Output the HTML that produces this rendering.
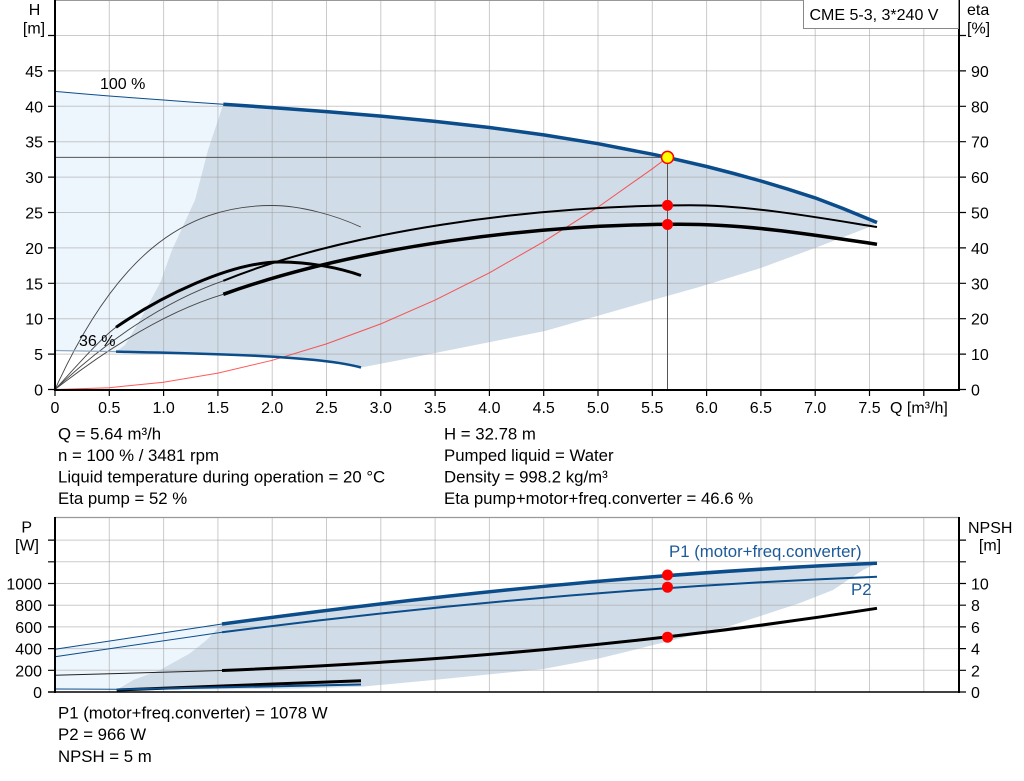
<!DOCTYPE html>
<html><head><meta charset="utf-8"><style>
html,body{margin:0;padding:0;background:#fff;width:1024px;height:781px;overflow:hidden}
svg{display:block}
text{font-family:"Liberation Sans",Arial,sans-serif;fill:#000}
.t{font-size:16px}
.i{font-size:16.8px}
</style></head><body>
<svg width="1024" height="781" viewBox="0 0 1024 781" xmlns="http://www.w3.org/2000/svg">
<rect x="0" y="0" width="1024" height="781" fill="#fff"/>

<!-- ============ TOP CHART ============ -->
<polygon fill="#edf5fd" points="55,91.4 82,93.7 109.3,96 136,98 163.6,100 190,102 223.3,104.2 208,150 195,200 172,250 160,283 140,320 125,345 116,351.6 55,350.5"/>
<polygon fill="#d0dce7" points="223.3,104.2 272.2,107.6 326.5,111.6 380.8,116.1 435.1,121.4 489.4,127.5 543.7,134.9 598,143.7 652.3,154.2 706.6,166.5 733.75,173.5 760.9,181 788.05,189.2 815.2,197.9 842.35,208.3 877,222.5 870,226.7 815,248 760,268.3 700,286.7 653,300 545,331 400,360 361,367.5 340,363 310,359.8 272,357.2 218,354.3 163,352.6 116,351.6 125,345 140,320 160,283 172,250 195,200 208,150"/>

<g stroke="#a0a0a0" stroke-opacity="0.55" stroke-width="1" fill="none">
<path d="M109.3,0V389.5M163.6,0V389.5M217.9,0V389.5M272.2,0V389.5M326.5,0V389.5M380.8,0V389.5M435.1,0V389.5M489.4,0V389.5M543.7,0V389.5M598,0V389.5M652.3,0V389.5M706.6,0V389.5M760.9,0V389.5M815.2,0V389.5M869.5,0V389.5M923.8,0V389.5"/>
<path d="M55,354.1H959M55,318.7H959M55,283.3H959M55,247.9H959M55,212.5H959M55,177.1H959M55,141.7H959M55,106.3H959M55,70.9H959M55,35.5H959"/>
</g>
<line x1="55" y1="0.5" x2="959" y2="0.5" stroke="#999" stroke-width="1"/>

<path d="M55,157.4H667.5V389.5" stroke="#555" stroke-width="1" fill="none"/>

<polyline fill="none" stroke="#ff3030" stroke-opacity="0.8" stroke-width="1" points="55,389.5 109.3,387.7 163.6,382.2 217.9,373.1 272.2,360.3 326.5,343.9 380.8,323.9 435.1,300.1 489.4,272.8 543.7,241.7 598,207.1 652.3,168.8 667.5,157.4"/>

<g fill="none" stroke="#444" stroke-width="0.9">
<path d="M55,389.5 C115,257.5 182,205.5 272,205.5 C300,205.5 335,215 360.8,227"/>
<path d="M55,389.5 C75,368 100,339 116,327.3"/>
<path d="M55,389.5 C105,342 163.3,301.8 223.3,280.8"/>
<path d="M55,389.5 C105,350.5 163.3,312.3 223.3,294.3"/>
</g>
<polyline fill="none" stroke="#0b4c8a" stroke-width="1" points="55,91.4 82,93.7 109.3,96 136,98 163.6,100 190,102 223.3,104.2"/>
<polyline fill="none" stroke="#8ea6bf" stroke-width="1.2" points="55,350.5 116,351.6"/>

<polyline fill="none" stroke="#0b4c8a" stroke-width="3.5" stroke-linejoin="round" points="223.3,104.2 272.2,107.6 326.5,111.6 380.8,116.1 435.1,121.4 489.4,127.5 543.7,134.9 598,143.7 652.3,154.2 667.5,157.4 706.6,166.5 733.75,173.5 760.9,181 788.05,189.2 815.2,197.9 842.35,208.3 877,222.5"/>
<path fill="none" stroke="#0b4c8a" stroke-width="2.5" d="M116,351.6 C200,353.3 320,355.5 361,367.5"/>

<path fill="none" stroke="#000" stroke-width="2" d="M223.3,280.8 C343.3,232 530,205.3 690,205.3 C750,205.3 815,217 877,227"/>
<path fill="none" stroke="#000" stroke-width="3.5" d="M223.3,294.3 C360,245 540,224.3 680,224.3 C750,224.3 815,235 877,244.3"/>
<path fill="none" stroke="#000" stroke-width="3" d="M116,327.3 C160,297 230,262 280,262 C310,262 340,268 361,275.5"/>

<circle cx="667.5" cy="205.4" r="5.5" fill="#f00"/>
<circle cx="667.5" cy="224.5" r="5.5" fill="#f00"/>
<circle cx="667.5" cy="157.4" r="6" fill="#ffff00" stroke="#f00" stroke-width="1.5"/>

<g stroke="#000" fill="none">
<line x1="55" y1="0" x2="55" y2="390.5" stroke-width="2"/>
<line x1="959" y1="0" x2="959" y2="390.5" stroke-width="2"/>
<line x1="54" y1="390" x2="960" y2="390" stroke-width="2"/>
<path stroke-width="1.2" d="M48,389.5H55M48,354.1H55M48,318.7H55M48,283.3H55M48,247.9H55M48,212.5H55M48,177.1H55M48,141.7H55M48,106.3H55M48,70.9H55M48,35.5H55"/>
<path stroke-width="1.2" d="M959,389.5H966M959,354.1H966M959,318.7H966M959,283.3H966M959,247.9H966M959,212.5H966M959,177.1H966M959,141.7H966M959,106.3H966M959,70.9H966M959,35.5H966"/>
<path stroke-width="1.2" d="M55,390V396M109.3,390V396M163.6,390V396M217.9,390V396M272.2,390V396M326.5,390V396M380.8,390V396M435.1,390V396M489.4,390V396M543.7,390V396M598,390V396M652.3,390V396M706.6,390V396M760.9,390V396M815.2,390V396M869.5,390V396M923.8,390V396"/>
</g>

<rect x="803.5" y="-1" width="155" height="29.5" fill="#fff" stroke="#888" stroke-width="1"/>
<text class="t" x="809.5" y="20">CME 5-3, 3*240 V</text>

<text class="t" x="100" y="89">100 %</text>
<text class="t" x="79" y="346">36 %</text>
<text class="t" x="34.5" y="15" text-anchor="middle">H</text>
<text class="t" x="34" y="33.5" text-anchor="middle">[m]</text>
<text class="t" x="967" y="15">eta</text>
<text class="t" x="967" y="33.5">[%]</text>

<g text-anchor="end">
<text class="t" x="43" y="395.5">0</text>
<text class="t" x="43" y="360.1">5</text>
<text class="t" x="43" y="324.7">10</text>
<text class="t" x="43" y="289.3">15</text>
<text class="t" x="43" y="253.9">20</text>
<text class="t" x="43" y="218.5">25</text>
<text class="t" x="43" y="183.1">30</text>
<text class="t" x="43" y="147.7">35</text>
<text class="t" x="43" y="112.3">40</text>
<text class="t" x="43" y="76.9">45</text>
</g>
<g>
<text class="t" x="971" y="395.5">0</text>
<text class="t" x="971" y="360.1">10</text>
<text class="t" x="971" y="324.7">20</text>
<text class="t" x="971" y="289.3">30</text>
<text class="t" x="971" y="253.9">40</text>
<text class="t" x="971" y="218.5">50</text>
<text class="t" x="971" y="183.1">60</text>
<text class="t" x="971" y="147.7">70</text>
<text class="t" x="971" y="112.3">80</text>
<text class="t" x="971" y="76.9">90</text>
</g>
<g text-anchor="middle">
<text class="t" x="55" y="413">0</text>
<text class="t" x="109.3" y="413">0.5</text>
<text class="t" x="163.6" y="413">1.0</text>
<text class="t" x="217.9" y="413">1.5</text>
<text class="t" x="272.2" y="413">2.0</text>
<text class="t" x="326.5" y="413">2.5</text>
<text class="t" x="380.8" y="413">3.0</text>
<text class="t" x="435.1" y="413">3.5</text>
<text class="t" x="489.4" y="413">4.0</text>
<text class="t" x="543.7" y="413">4.5</text>
<text class="t" x="598" y="413">5.0</text>
<text class="t" x="652.3" y="413">5.5</text>
<text class="t" x="706.6" y="413">6.0</text>
<text class="t" x="760.9" y="413">6.5</text>
<text class="t" x="815.2" y="413">7.0</text>
<text class="t" x="869.5" y="413">7.5</text>
</g>
<text class="t" x="890" y="413">Q [m³/h]</text>

<text class="i" x="58" y="439.5">Q = 5.64 m³/h</text>
<text class="i" x="58" y="461">n = 100 % / 3481 rpm</text>
<text class="i" x="58" y="482.5">Liquid temperature during operation = 20 °C</text>
<text class="i" x="58" y="504">Eta pump = 52 %</text>
<text class="i" x="444" y="439.5">H = 32.78 m</text>
<text class="i" x="444" y="461">Pumped liquid = Water</text>
<text class="i" x="444" y="482.5">Density = 998.2 kg/m³</text>
<text class="i" x="444" y="504">Eta pump+motor+freq.converter = 46.6 %</text>

<!-- ============ BOTTOM CHART ============ -->
<polygon fill="#edf5fd" points="55,649.3 222,624 206.7,640 190,653.3 160,670 133.3,680 116.7,688.3 55,690"/>
<polygon fill="#d0dce7" points="222,624 300,614 386,603.2 450,596.5 549.5,585.8 600,581.2 667.5,575 712.8,572.4 770,568.3 877,563.3 863,570 833,590 800,603 733,625 700,633.5 653.3,645 600,658.3 543.3,669 433.3,680 361,686.7 300,688.5 200,689.5 116.7,689.5 133.3,680 160,670 190,653.3 206.7,640"/>

<g stroke="#a0a0a0" stroke-opacity="0.55" stroke-width="1" fill="none">
<path d="M109.3,517V692M163.6,517V692M217.9,517V692M272.2,517V692M326.5,517V692M380.8,517V692M435.1,517V692M489.4,517V692M543.7,517V692M598,517V692M652.3,517V692M706.6,517V692M760.9,517V692M815.2,517V692M869.5,517V692M923.8,517V692"/>
<path d="M55,670.3H959M55,648.6H959M55,626.9H959M55,605.2H959M55,583.5H959M55,561.8H959M55,540.1H959"/>
</g>
<line x1="55" y1="517.5" x2="959" y2="517.5" stroke="#999" stroke-width="1.2"/>

<polyline fill="none" stroke="#0b4c8a" stroke-width="1" points="55,649.3 222,624"/>
<polyline fill="none" stroke="#0b4c8a" stroke-width="1" points="55,656.7 222,632.3"/>
<polyline fill="none" stroke="#222" stroke-width="1" points="55,675.3 222,670.5"/>
<polyline fill="none" stroke="#0b4c8a" stroke-width="1" points="55,689 116.7,689.3"/>

<path fill="none" stroke="#0b4c8a" stroke-width="3.5" d="M222,624 C442,594.3 657,572.1 877,563.3"/>
<path fill="none" stroke="#0b4c8a" stroke-width="2" d="M222,632.3 C442,604 657,585.5 877,576.7"/>
<path fill="none" stroke="#000" stroke-width="3" d="M222,670.5 C442,661.7 657,643 877,608.3"/>
<polyline fill="none" stroke="#000" stroke-width="3" points="116.7,690 361,680.7"/>
<polyline fill="none" stroke="#0b4c8a" stroke-width="2" points="116.7,689.5 361,684.5"/>

<circle cx="667.5" cy="575" r="5.5" fill="#f00"/>
<circle cx="667.5" cy="587.2" r="5.5" fill="#f00"/>
<circle cx="667.5" cy="637.2" r="5.5" fill="#f00"/>

<text class="i" x="669" y="557" style="fill:#1c5a9a">P1 (motor+freq.converter)</text>
<text class="i" x="851" y="595" style="fill:#1c5a9a">P2</text>

<g stroke="#000" fill="none">
<line x1="55" y1="517" x2="55" y2="693" stroke-width="2"/>
<line x1="959" y1="517" x2="959" y2="693" stroke-width="2"/>
<line x1="48" y1="692" x2="960" y2="692" stroke-width="1.6"/>
<path stroke-width="1.2" d="M48,670.3H55M48,648.6H55M48,626.9H55M48,605.2H55M48,583.5H55M48,561.8H55M48,540.1H55"/>
<path stroke-width="1.2" d="M959,692H966M959,670.3H966M959,648.6H966M959,626.9H966M959,605.2H966M959,583.5H966M959,561.8H966M959,540.1H966"/>
</g>

<text class="t" x="26.7" y="532.7" text-anchor="middle">P</text>
<text class="t" x="27" y="550.5" text-anchor="middle">[W]</text>
<text class="t" x="968" y="533">NPSH</text>
<text class="t" x="990" y="550.5" text-anchor="middle">[m]</text>

<g text-anchor="end">
<text class="t" x="42" y="698">0</text>
<text class="t" x="42" y="676.3">200</text>
<text class="t" x="42" y="654.6">400</text>
<text class="t" x="42" y="632.9">600</text>
<text class="t" x="42" y="611.2">800</text>
<text class="t" x="42" y="589.5">1000</text>
</g>
<text class="t" x="971" y="698">0</text>
<text class="t" x="971" y="676.3">2</text>
<text class="t" x="971" y="654.6">4</text>
<text class="t" x="971" y="632.9">6</text>
<text class="t" x="971" y="611.2">8</text>
<text class="t" x="971" y="589.5">10</text>

<text class="i" x="58" y="718.5">P1 (motor+freq.converter) = 1078 W</text>
<text class="i" x="58" y="740">P2 = 966 W</text>
<text class="i" x="58" y="762">NPSH = 5 m</text>
</svg>
</body></html>
